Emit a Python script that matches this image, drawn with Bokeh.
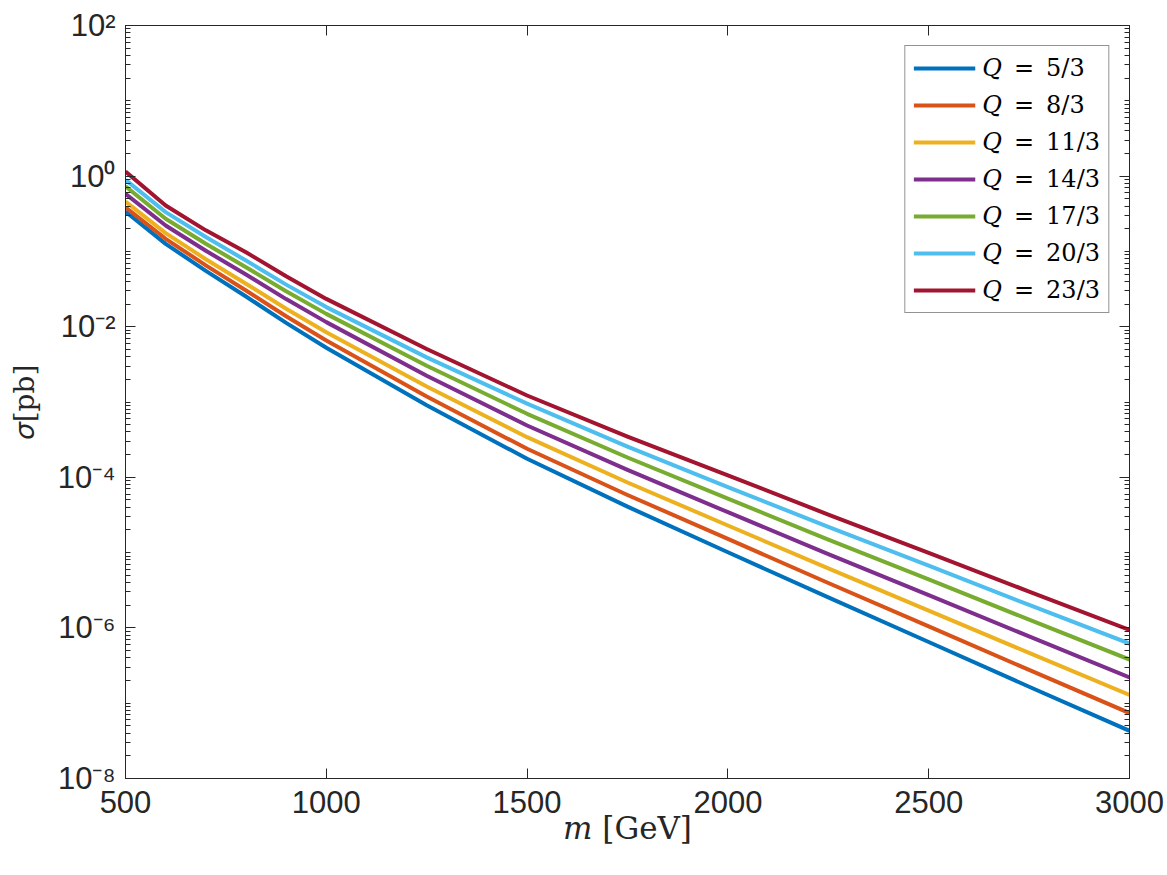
from bokeh.plotting import figure
from bokeh.models import (FixedTicker, LogAxis, LinearAxis, CustomJSTickFormatter,
                          Legend, LegendItem, Range1d)
from bokeh.embed import file_html
from bokeh.resources import INLINE

# Cross sections sigma [pb] versus mass m [GeV] for each charge Q
mass = [500, 600, 700, 800, 900, 1000, 1250, 1500, 1750, 2000, 2250, 2500, 2750, 3000]
charges = ["5/3", "8/3", "11/3", "14/3", "17/3", "20/3", "23/3"]
sigma_q5 = [0.339, 0.126, 0.0551, 0.0252, 0.01123, 5.25e-3, 9.08e-4, 1.76e-4,
            4.08e-5, 1.01e-5, 2.54e-6, 6.5e-7, 1.654e-7, 4.3e-8]
sigma_q8 = [0.386, 0.147, 0.0652, 0.0303, 0.01377, 6.56e-3, 1.181e-3, 2.39e-4,
            5.83e-5, 1.52e-5, 3.95e-6, 1.05e-6, 2.77e-7, 7.4e-8]
sigma_q11 = [0.46, 0.175, 0.0787, 0.0372, 0.01732, 8.45e-3, 1.603e-3, 3.41e-4,
             8.54e-5, 2.29e-5, 6.17e-6, 1.70e-6, 4.65e-7, 1.29e-7]
sigma_q14 = [0.58, 0.221, 0.1020, 0.0493, 0.02325, 0.0115, 2.234e-3, 4.88e-4,
             1.252e-4, 3.44e-5, 9.57e-6, 2.72e-6, 7.71e-7, 2.2e-7]
sigma_q17 = [0.73, 0.271, 0.1263, 0.0617, 0.02955, 0.0148, 3.03e-3, 6.97e-4,
             1.834e-4, 5.2e-5, 1.491e-5, 4.40e-6, 1.284e-6, 3.8e-7]
sigma_q20 = [0.89, 0.332, 0.155, 0.0757, 0.0362, 0.0182, 3.91e-3, 9.5e-4,
             2.56e-4, 7.4e-5, 2.20e-5, 6.7e-6, 2.02e-6, 6.2e-7]
sigma_q23 = [1.15, 0.407, 0.1904, 0.0975, 0.0467, 0.0234, 5.05e-3, 1.22e-3,
             3.47e-4, 1.06e-4, 3.20e-5, 9.9e-6, 3.04e-6, 9.4e-7]
series = [sigma_q5, sigma_q8, sigma_q11, sigma_q14, sigma_q17, sigma_q20, sigma_q23]
colors = ["#0072BD", "#D95319", "#EDB120", "#7E2F8E", "#77AC30", "#4DBEEE", "#A2142F"]

x_ticks = [500, 1000, 1500, 2000, 2500, 3000]
y_major = [1e-8, 1e-6, 1e-4, 1e-2, 1e0, 1e2]
y_minor = [k * 10.0 ** e for e in range(-8, 2) for k in range(1, 10)
           if not (k == 1 and e % 2 == 0)]

AX = "#262626"
TICK_FONT = "Liberation Sans"
SERIF = "DejaVu Serif"

p = figure(width=1167, height=875, y_axis_type="log",
           x_range=Range1d(500, 3000), y_range=Range1d(1e-8, 1e2),
           output_backend="svg", toolbar_location=None,
           min_border_left=125, min_border_right=38,
           min_border_top=25, min_border_bottom=97)
p.xgrid.visible = False
p.ygrid.visible = False
p.outline_line_color = AX
p.outline_line_width = 1

renderers = []
for ys, c in zip(series, colors):
    r = p.line(mass, ys, line_color=c, line_width=4, line_join="round")
    renderers.append(r)

sup_code = """
const sup = {'-':'\u207b','0':'\u2070','1':'\u00b9','2':'\u00b2','3':'\u00b3',
             '4':'\u2074','5':'\u2075','6':'\u2076','7':'\u2077','8':'\u2078','9':'\u2079'};
const e = Math.round(Math.log10(tick));
return '10' + String(e).split('').map(c => sup[c]).join('');
"""

xa = p.xaxis[0]
xa.ticker = FixedTicker(ticks=x_ticks)
xa.axis_label = "\U0001D45A [GeV]"
ya = p.yaxis[0]
ya.ticker = FixedTicker(ticks=y_major, minor_ticks=y_minor)
ya.formatter = CustomJSTickFormatter(code=sup_code)
ya.axis_label = "\U0001D70E[pb]"

for ax in (xa, ya):
    ax.axis_line_color = AX
    ax.major_tick_line_color = AX
    ax.minor_tick_line_color = AX
    ax.major_tick_in = 10
    ax.major_tick_out = 0
    ax.minor_tick_in = 5
    ax.minor_tick_out = 0
    ax.major_label_text_font = TICK_FONT
    ax.major_label_text_font_size = "31px"
    ax.major_label_text_color = AX
    ax.axis_label_text_font = SERIF
    ax.axis_label_text_font_style = "normal"
    ax.axis_label_text_color = AX
xa.minor_tick_line_color = None
xa.major_label_standoff = 12
xa.axis_label_text_font_size = "31px"
xa.axis_label_standoff = -6
ya.major_label_standoff = 10
ya.axis_label_text_font_size = "28px"
ya.axis_label_standoff = 14

blank = CustomJSTickFormatter(code="return '';")
top = LinearAxis(ticker=FixedTicker(ticks=x_ticks), formatter=blank)
right = LogAxis(ticker=FixedTicker(ticks=y_major, minor_ticks=y_minor), formatter=blank)
for ax in (top, right):
    ax.axis_line_color = AX
    ax.major_tick_line_color = AX
    ax.minor_tick_line_color = AX
    ax.major_tick_in = 10
    ax.major_tick_out = 0
    ax.minor_tick_in = 5
    ax.minor_tick_out = 0
    ax.major_label_standoff = 0
top.minor_tick_line_color = None
p.add_layout(top, "above")
p.add_layout(right, "right")

legend = Legend(
    items=[LegendItem(label=f"\U0001D444\u2002=\u2002{q}", renderers=[r])
           for q, r in zip(charges, renderers)],
    location="top_right", margin=20, padding=8, spacing=9,
    glyph_width=62, glyph_height=28, label_height=28, label_standoff=7,
    label_text_font=SERIF, label_text_font_size="24px", label_text_color="#000000",
    border_line_color=AX, border_line_width=1, background_fill_color="white",
    background_fill_alpha=1.0,
)
p.add_layout(legend, "center")

open("out.html", "w").write(file_html(p, INLINE))
